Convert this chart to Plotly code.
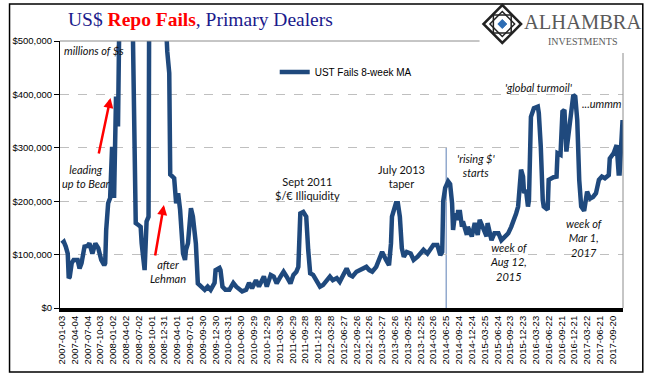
import plotly.graph_objects as go

# ---------------- data (weekly UST fails, 8-week MA, $ millions) ----------------
dates = [
    "2007-01-03", "2007-01-17", "2007-01-31", "2007-02-14", "2007-02-21", "2007-02-28",
    "2007-03-14", "2007-03-28", "2007-04-25", "2007-05-09", "2007-05-23", "2007-06-13",
    "2007-07-04", "2007-07-18", "2007-08-08", "2007-08-29", "2007-09-19", "2007-10-10",
    "2007-10-31", "2007-11-07", "2007-11-14", "2007-11-28", "2007-12-12", "2007-12-26",
    "2008-01-09", "2008-01-23", "2008-02-06", "2008-02-13", "2008-02-27", "2008-03-26",
    "2008-04-23", "2008-05-14", "2008-06-11", "2008-07-02", "2008-07-16", "2008-07-23",
    "2008-08-06", "2008-08-13", "2008-08-27", "2008-09-10", "2008-09-17", "2008-10-08",
    "2008-11-05", "2008-12-03", "2008-12-17", "2009-01-07", "2009-01-21", "2009-02-04",
    "2009-02-11", "2009-02-25", "2009-03-11", "2009-03-25", "2009-04-08", "2009-04-22",
    "2009-04-29", "2009-05-13", "2009-05-27", "2009-06-03", "2009-06-17", "2009-07-01",
    "2009-07-08", "2009-07-22", "2009-08-05", "2009-08-12", "2009-08-26", "2009-09-16",
    "2009-10-14", "2009-11-04", "2009-11-25", "2009-12-23", "2009-12-30", "2010-01-27",
    "2010-02-03", "2010-02-17", "2010-03-10", "2010-04-07", "2010-05-05", "2010-05-26",
    "2010-06-16", "2010-07-07", "2010-08-04", "2010-08-25", "2010-09-15", "2010-10-13",
    "2010-11-03", "2010-11-17", "2010-12-08", "2010-12-29", "2011-01-26", "2011-02-16",
    "2011-03-09", "2011-04-06", "2011-04-27", "2011-05-18", "2011-06-15", "2011-07-06",
    "2011-07-27", "2011-08-10", "2011-08-24", "2011-09-14", "2011-10-05", "2011-10-19",
    "2011-11-02", "2011-11-23", "2011-12-14", "2012-01-11", "2012-02-01", "2012-02-22",
    "2012-03-21", "2012-04-11", "2012-05-09", "2012-05-30", "2012-06-20", "2012-07-18",
    "2012-08-08", "2012-08-29", "2012-09-26", "2012-10-17", "2012-11-07", "2012-12-05",
    "2012-12-26", "2013-01-16", "2013-02-13", "2013-03-06", "2013-03-27", "2013-04-24",
    "2013-05-15", "2013-05-29", "2013-06-05", "2013-07-03", "2013-07-17", "2013-07-31",
    "2013-08-07", "2013-08-14", "2013-08-28", "2013-09-18", "2013-10-16", "2013-11-06",
    "2013-12-04", "2013-12-25", "2014-01-15", "2014-02-12", "2014-03-05", "2014-03-26",
    "2014-04-23", "2014-05-14", "2014-05-28", "2014-06-04", "2014-06-18", "2014-07-09",
    "2014-07-23", "2014-08-06", "2014-08-13", "2014-08-27", "2014-09-10", "2014-09-17",
    "2014-10-01", "2014-10-15", "2014-10-22", "2014-11-05", "2014-11-19", "2014-11-26",
    "2014-12-24", "2015-01-14", "2015-02-04", "2015-02-18", "2015-03-11", "2015-04-08",
    "2015-04-15", "2015-05-13", "2015-06-03", "2015-07-01", "2015-07-22", "2015-08-12",
    "2015-09-09", "2015-09-30", "2015-10-21", "2015-11-04", "2015-11-18", "2015-11-25",
    "2015-12-09", "2015-12-23", "2015-12-30", "2016-01-13", "2016-01-27", "2016-02-03",
    "2016-02-17", "2016-03-09", "2016-04-06", "2016-04-13", "2016-04-27", "2016-05-11",
    "2016-05-18", "2016-06-15", "2016-06-22", "2016-07-27", "2016-08-17", "2016-08-24",
    "2016-09-14", "2016-09-28", "2016-10-12", "2016-10-26", "2016-11-09", "2016-11-30",
    "2016-12-14", "2016-12-28", "2017-01-11", "2017-01-25", "2017-02-08", "2017-03-01",
    "2017-03-22", "2017-04-12", "2017-05-03", "2017-05-24", "2017-06-14", "2017-07-05",
    "2017-07-26", "2017-08-23", "2017-08-30", "2017-09-27", "2017-10-18", "2017-11-01",
    "2017-11-08", "2017-11-29",
]
fails = [
    121000, 124000, 115000, 102000, 56000, 58000,
    84000, 90000, 90000, 74000, 84000, 115000,
    116000, 121000, 102000, 121000, 112000, 90000,
    80000, 84000, 146000, 196000, 206000, 302000,
    206000, 396000, 340000, 490000, 1000000, 1400000,
    1000000, 650000, 159000, 155000, 152000, 121000,
    96000, 71000, 162000, 171000, 800000, 2200000,
    2600000, 1800000, 1000000, 560000, 480000, 440000,
    250000, 246000, 243000, 196000, 215000, 184000,
    146000, 102000, 90000, 109000, 121000, 184000,
    187000, 171000, 134000, 121000, 46000, 40000,
    34000, 40000, 34000, 47000, 71000, 75000,
    71000, 40000, 34000, 34000, 47000, 40000,
    34000, 31000, 34000, 47000, 37000, 52000,
    40000, 49000, 59000, 40000, 62000, 59000,
    46000, 59000, 68000, 59000, 46000, 62000,
    68000, 77000, 177000, 180000, 171000, 109000,
    65000, 62000, 52000, 40000, 43000, 49000,
    59000, 52000, 56000, 49000, 62000, 74000,
    62000, 59000, 68000, 71000, 74000, 77000,
    71000, 68000, 77000, 93000, 105000, 90000,
    80000, 121000, 171000, 196000, 196000, 171000,
    121000, 112000, 96000, 105000, 102000, 90000,
    96000, 102000, 109000, 102000, 109000, 118000,
    118000, 99000, 105000, 200000, 225000, 237000,
    232000, 196000, 146000, 177000, 165000, 180000,
    180000, 152000, 162000, 146000, 137000, 152000,
    134000, 159000, 137000, 165000, 152000, 134000,
    159000, 127000, 140000, 140000, 127000, 134000,
    140000, 152000, 165000, 177000, 190000, 221000,
    259000, 246000, 215000, 221000, 190000, 202000,
    358000, 374000, 377000, 365000, 302000, 202000,
    190000, 184000, 240000, 245000, 246000, 290000,
    287000, 368000, 371000, 293000, 321000, 377000,
    399000, 396000, 352000, 240000, 190000, 182000,
    218000, 205000, 208000, 215000, 240000, 246000,
    243000, 249000, 280000, 290000, 305000, 252000,
    252000, 352000,
]
series_name = "UST Fails 8-week MA"

tick_labels = [
    "2007-01-03", "2007-04-04", "2007-07-04", "2007-10-03", "2008-01-02", "2008-04-02",
    "2008-07-02", "2008-10-01", "2008-12-31", "2009-04-01", "2009-07-01", "2009-09-30",
    "2009-12-30", "2010-03-31", "2010-06-30", "2010-09-29", "2010-12-29", "2011-03-30",
    "2011-06-29", "2011-09-28", "2011-12-28", "2012-03-28", "2012-06-27", "2012-09-26",
    "2012-12-26", "2013-03-27", "2013-06-26", "2013-09-25", "2013-12-25", "2014-03-26",
    "2014-06-25", "2014-09-24", "2014-12-24", "2015-03-25", "2015-06-24", "2015-09-23",
    "2015-12-23", "2016-03-23", "2016-06-22", "2016-09-21", "2016-12-21", "2017-03-22",
    "2017-06-21", "2017-09-20",
]
y_ticks = [0, 100000, 200000, 300000, 400000, 500000]
y_tick_labels = ["$0", "$100,000", "$200,000", "$300,000", "$400,000", "$500,000"]
marker_date = "2014-06-25"

# ---------------- layout geometry helpers ----------------
W, H = 652, 381
L, R, T, B = 54, 29, 41, 73
PW = W - L - R
PH = H - T - B


def px(x):
    return (x - L) / PW


def py(y):
    return (H - B - y) / PH


NAVY = "#1A1A8C"
LINE = "#1F497D"
GRID = "#BFBFBF"
TXT_FONT = "Lato"

fig = go.Figure()
fig.add_trace(go.Scatter(
    x=dates, y=fails, mode="lines", name=series_name,
    line=dict(color=LINE, width=4.5),
    hoverinfo="skip",
))

shapes = []
# plot-area border (top + right, gray)
shapes.append(dict(type="line", xref="paper", yref="paper", x0=0, x1=1, y0=1, y1=1,
                   line=dict(color="#8C8C8C", width=1), layer="above"))
shapes.append(dict(type="line", xref="paper", yref="paper", x0=1, x1=1, y0=0, y1=1,
                   line=dict(color="#8C8C8C", width=1), layer="above"))
# vertical marker line
shapes.append(dict(type="line", xref="x", yref="y", x0=marker_date, x1=marker_date,
                   y0=0, y1=300000, line=dict(color="#5B7FB5", width=1), layer="below"))
# white box behind the logo
shapes.append(dict(type="rect", xref="paper", yref="paper",
                   x0=px(478), x1=px(641), y0=py(53), y1=py(6),
                   fillcolor="white", line=dict(width=0), layer="above"))
# outer black frame
shapes.append(dict(type="rect", xref="paper", yref="paper",
                   x0=px(3), x1=px(643), y0=py(372), y1=py(4),
                   line=dict(color="black", width=1.5), layer="above"))


def diamond(cx, cy, h):
    return (f"M {px(cx)} {py(cy - h)} L {px(cx + h)} {py(cy)} "
            f"L {px(cx)} {py(cy + h)} L {px(cx - h)} {py(cy)} Z")


def square(cx, cy, h):
    return (f"M {px(cx - h)} {py(cy - h)} L {px(cx + h)} {py(cy - h)} "
            f"L {px(cx + h)} {py(cy + h)} L {px(cx - h)} {py(cy + h)} Z")


LX, LY = 501, 24
shapes.append(dict(type="path", xref="paper", yref="paper", path=diamond(LX, LY, 19),
                   line=dict(color="#222", width=2.5), layer="above"))
shapes.append(dict(type="path", xref="paper", yref="paper", path=diamond(LX, LY, 12.5),
                   line=dict(color="#222", width=1.5), layer="above"))
shapes.append(dict(type="path", xref="paper", yref="paper", path=square(LX, LY, 9),
                   line=dict(color="#222", width=1.5), layer="above"))
shapes.append(dict(type="path", xref="paper", yref="paper", path=diamond(LX, LY, 4.5),
                   fillcolor="#2E6DB4", line=dict(color="#2E6DB4", width=1), layer="above"))

annotations = []


def text(x, y, s, size=11, italic=True, xanchor="center", color="#111", family=TXT_FONT):
    st = "italic" if italic else "normal"
    annotations.append(dict(
        x=px(x), y=py(y), xref="paper", yref="paper", text=s, showarrow=False,
        xanchor=xanchor, yanchor="middle", align="center",
        font=dict(family=family, size=size, color=color, style=st),
    ))


# title
annotations.append(dict(
    x=px(60), y=py(19), xref="paper", yref="paper", showarrow=False,
    xanchor="left", yanchor="middle",
    text="US$ <b><span style='color:#FF0000'>Repo Fails</span></b>, Primary Dealers",
    font=dict(family="Liberation Serif", size=19.5, color=NAVY),
))
# logo text
text(521, 22, "ALHAMBRA", size=20.5, italic=False, xanchor="left",
     color="#5A5A5A", family="Liberation Serif")
text(582, 41, "INVESTMENTS", size=10, italic=False, color="#5A5A5A",
     family="Liberation Serif")

# chart notes
text(56, 50.5, "millions of $s", xanchor="left")
text(80, 176, "leading<br>up to Bear")
text(163, 271.5, "after<br>Lehman")
text(304, 188, "Sept 2011<br>$/€ Illiquidity", italic=False)
text(399, 176, "July 2013<br>taper", italic=False)
text(474, 165.5, "'rising $'<br>starts")
text(538, 87.5, "'global turmoil'")
text(580, 103.5, "...ummm", xanchor="left")
text(507.5, 261.5, "week of<br>Aug 12,<br>2015")
text(584.5, 237.5, "week of<br>Mar 1,<br>2017")

# red arrows
for (hx, hy, tx, ty) in [(105, 98, 93, 155), (159, 205, 150, 257)]:
    annotations.append(dict(
        x=px(hx), y=py(hy), xref="paper", yref="paper", text="",
        showarrow=True, arrowhead=2, arrowsize=0.8, arrowwidth=2.5, arrowcolor="#FF0000",
        ax=tx - hx, ay=ty - hy, standoff=0,
    ))

fig.update_layout(
    width=W, height=H, autosize=False,
    margin=dict(l=L, r=R, t=T, b=B, pad=0),
    paper_bgcolor="white", plot_bgcolor="white",
    showlegend=True,
    legend=dict(x=px(271), y=py(72), xanchor="left", yanchor="middle",
                bgcolor="rgba(0,0,0,0)", itemwidth=30,
                font=dict(family="Liberation Sans", size=10, color="black")),
    xaxis=dict(
        type="date", range=["2006-12-21", "2017-12-02"],
        tickmode="array", tickvals=tick_labels, ticktext=tick_labels,
        tickangle=-90, ticks="", showgrid=False, zeroline=False,
        showline=True, linecolor="black", linewidth=4,
        tickfont=dict(family="Liberation Sans", size=9.5, color="black"),
    ),
    yaxis=dict(
        range=[0, 500000], tickmode="array", tickvals=y_ticks, ticktext=y_tick_labels,
        ticks="outside", ticklen=5,
        tickcolor="black", showline=True, linecolor="black", linewidth=1,
        showgrid=True, gridcolor=GRID, griddash="dash", gridwidth=1,
        zeroline=False,
        tickfont=dict(family="Liberation Sans", size=9.5, color="black"),
    ),
    shapes=shapes,
    annotations=annotations,
)

fig.write_html("out.html", config={"displayModeBar": False},
               post_script="document.body.style.margin='0px';")
